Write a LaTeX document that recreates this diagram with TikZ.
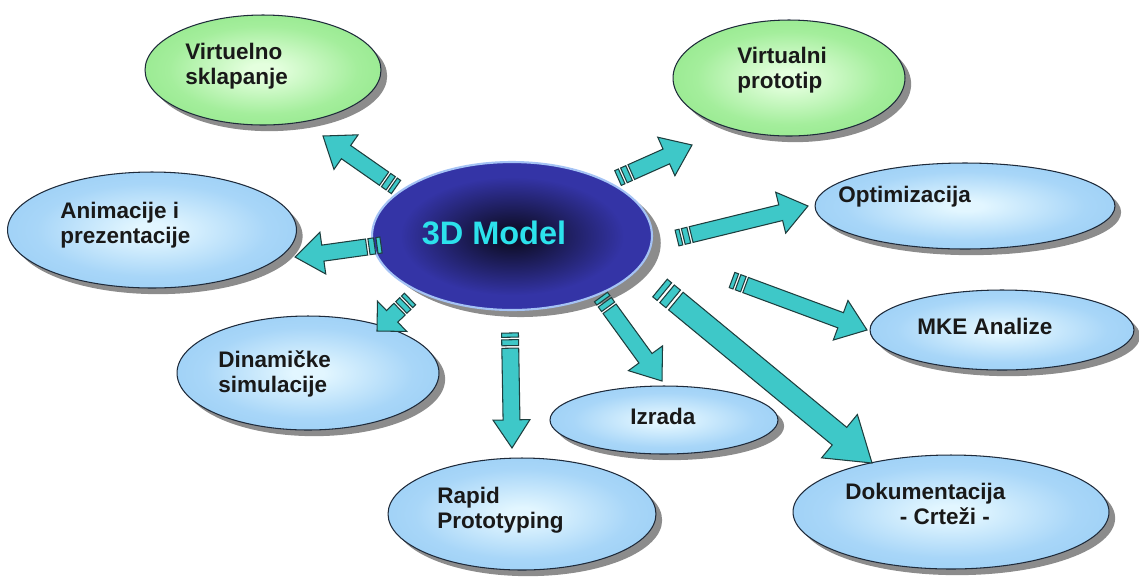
\documentclass[tikz,border=0pt]{standalone}
\usepackage{fontspec}
\setmainfont{Liberation Sans}
\usetikzlibrary{calc,shadows,shapes.geometric}

\definecolor{skyin}{RGB}{226,246,255}
\definecolor{skymid}{RGB}{168,214,248}
\definecolor{skyout}{RGB}{128,192,240}
\definecolor{leafin}{RGB}{228,255,222}
\definecolor{leafmid}{RGB}{164,238,156}
\definecolor{leafout}{RGB}{114,220,108}
\definecolor{navyin}{RGB}{16,16,46}
\definecolor{navyout}{RGB}{52,52,166}
\definecolor{navyedge}{RGB}{165,195,245}
\definecolor{bubbleedge}{RGB}{30,42,58}
\definecolor{arrowfill}{RGB}{62,200,200}
\definecolor{arrowedge}{RGB}{30,62,62}
\definecolor{modeltext}{RGB}{44,226,236}

\pgfdeclareradialshading{skyshade}{\pgfpoint{0bp}{0bp}}{color(0bp)=(skyin); color(3bp)=(skyin); color(20bp)=(skymid); color(50bp)=(skyout)}
\pgfdeclareradialshading{leafshade}{\pgfpoint{0bp}{0bp}}{color(0bp)=(leafin); color(3bp)=(leafin); color(20bp)=(leafmid); color(50bp)=(leafout)}
\pgfdeclareradialshading{navyshade}{\pgfpoint{0bp}{0bp}}{color(0bp)=(navyin); color(3bp)=(navyin); color(20bp)=(navyout); color(50bp)=(navyout)}

\tikzset{
  bubble/.style={ellipse, draw=bubbleedge, line width=0.6pt, inner sep=0pt,
    shade, shading=skyshade,
    drop shadow={shadow xshift=3.5pt, shadow yshift=-3.5pt, fill=black!45, opacity=1}},
  greenbubble/.style={bubble, shading=leafshade},
  modelbubble/.style={ellipse, draw=navyedge, line width=1.2pt, inner sep=0pt,
    shade, shading=navyshade,
    drop shadow={shadow xshift=5pt, shadow yshift=-4pt, fill=black!45, opacity=1}},
  lbl/.style={font=\fontsize{12.8}{14.2}\selectfont\bfseries, text=black!90,
    inner sep=0pt, align=left},
  arrowbody/.style={fill=arrowfill, draw=arrowedge, line width=0.6pt, line join=miter},
}

% striped block arrow: start, tip, half width, head half width, head length
\newcommand\flowarrow[5]{%
  \coordinate (fa-h) at ($(#2)!#5!(#1)$);
  \coordinate (fa-1) at ($(#1)!0.5*#3!(#2)$);
  \coordinate (fa-2) at ($(#1)!0.8*#3!(#2)$);
  \coordinate (fa-3) at ($(#1)!1.5*#3!(#2)$);
  \coordinate (fa-4) at ($(#1)!1.8*#3!(#2)$);
  \path[arrowbody] ($(#1)!#3!90:(#2)$) -- ($(fa-1)!#3!90:(#2)$)
    -- ($(fa-1)!#3!-90:(#2)$) -- ($(#1)!#3!-90:(#2)$) -- cycle;
  \path[arrowbody] ($(fa-2)!#3!90:(#2)$) -- ($(fa-3)!#3!90:(#2)$)
    -- ($(fa-3)!#3!-90:(#2)$) -- ($(fa-2)!#3!-90:(#2)$) -- cycle;
  \path[arrowbody] ($(fa-4)!#3!90:(#2)$) -- ($(fa-h)!#3!90:(#2)$)
    -- ($(fa-h)!#4!90:(#2)$) -- (#2) -- ($(fa-h)!#4!-90:(#2)$)
    -- ($(fa-h)!#3!-90:(#2)$) -- ($(fa-4)!#3!-90:(#2)$) -- cycle;
}

\begin{document}
\begin{tikzpicture}[x=0.02cm, y=-0.02cm]
\useasboundingbox (0,0) rectangle (1139,576);

% outer bubbles
\node[greenbubble, minimum width=4.72cm, minimum height=2.2cm] (sklapanje) at (263,70) {};
\node[greenbubble, minimum width=4.64cm, minimum height=2.32cm] (prototip) at (789,78) {};
\node[bubble, minimum width=5.78cm, minimum height=2.32cm] (animacije) at (152,230) {};
\node[bubble, minimum width=6.0cm, minimum height=1.72cm] (optimizacija) at (965,206) {};
\node[bubble, minimum width=5.28cm, minimum height=1.6cm] (mke) at (1002,330) {};
\node[bubble, minimum width=5.24cm, minimum height=2.28cm] (dinamicke) at (308,373) {};
\node[bubble, minimum width=4.56cm, minimum height=1.36cm] (izrada) at (664,420) {};
\node[bubble, minimum width=5.36cm, minimum height=2.24cm] (rapid) at (522,514) {};
\node[bubble, minimum width=6.32cm, minimum height=2.28cm] (dokumentacija) at (951,512) {};

% centre
\node[modelbubble, minimum width=5.6cm, minimum height=2.96cm] (model) at (512,236) {};
\node[font=\fontsize{18.5}{20}\selectfont\bfseries, text=modeltext, inner sep=0pt] (modeltxt) at (494,233) {3D Model};

% labels
\node[lbl, anchor=north west] (tsklapanje) at (185,43) {Virtuelno\\sklapanje};
\node[lbl, anchor=north west] (tprototip) at (737,47) {Virtualni\\prototip};
\node[lbl, anchor=north west] (tanimacije) at (60,202) {Animacije i\\prezentacije};
\node[lbl, anchor=north west] (toptimizacija) at (838,186) {Optimizacija};
\node[lbl, anchor=north west] (tmke) at (917,318) {MKE Analize};
\node[lbl, anchor=north west] (tdinamicke) at (218,350) {Dinami\v{c}ke\\simulacije};
\node[lbl, anchor=north west] (tizrada) at (630,408) {Izrada};
\node[lbl, anchor=north west] (trapid) at (437,487) {Rapid\\Prototyping};
\node[lbl, anchor=north west] (tdokumentacija) at (845,483) {Dokumentacija\\\hspace*{31pt}- Crte\v{z}i -};

% arrow ends
\coordinate (s1) at (396,187); \coordinate (e1) at (323,136);
\coordinate (s2) at (618,178); \coordinate (e2) at (692,145);
\coordinate (s3) at (381,245); \coordinate (e3) at (295,257);
\coordinate (s4) at (677,238); \coordinate (e4) at (808,206);
\coordinate (s5) at (410,299); \coordinate (e5) at (377,331);
\coordinate (s6) at (510,333); \coordinate (e6) at (512,448);
\coordinate (s7) at (601,297); \coordinate (e7) at (662,381);
\coordinate (s8) at (732,280); \coordinate (e8) at (867,330);
\coordinate (s9) at (660,288); \coordinate (e9) at (872,463);

\flowarrow{s1}{e1}{4.6pt}{12pt}{16pt}
\flowarrow{s2}{e2}{4.6pt}{12pt}{16pt}
\flowarrow{s3}{e3}{4.6pt}{12pt}{16pt}
\flowarrow{s4}{e4}{4.6pt}{12pt}{16pt}
\flowarrow{s5}{e5}{4.6pt}{12pt}{12pt}
\flowarrow{s6}{e6}{4.8pt}{10.5pt}{16pt}
\flowarrow{s7}{e7}{4.6pt}{12pt}{16pt}
\flowarrow{s8}{e8}{4.6pt}{12pt}{16pt}
\flowarrow{s9}{e9}{6.5pt}{16pt}{24pt}
\end{tikzpicture}
\end{document}
